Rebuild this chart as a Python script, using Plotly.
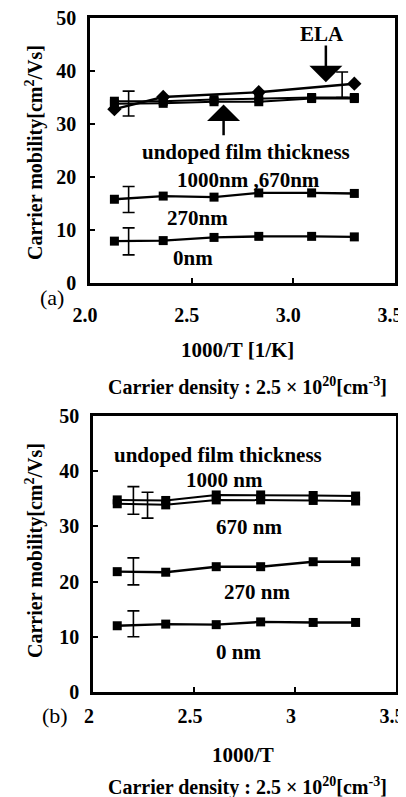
import plotly.graph_objects as go

# page window is 406x797; the HTML body keeps its default 8px margin
WIN_W, WIN_H = 406, 797
OFF = 8
W, H = WIN_W - OFF, WIN_H - OFF

# ---------------- data ----------------
x_pts = [2.12, 2.36, 2.61, 2.83, 3.09, 3.30]

# panel (a)
a_1000 = [34.3, 34.3, 34.6, 34.8, 35.0, 35.0]
a_670 = [33.8, 33.9, 34.2, 34.2, 34.8, 34.8]
a_270 = [15.8, 16.4, 16.2, 17.0, 17.0, 16.9]
a_0 = [7.9, 8.0, 8.6, 8.8, 8.8, 8.7]
a_ela_x = [2.12, 2.36, 2.83, 3.30]
a_ela = [32.8, 35.1, 36.0, 37.6]
a_err_x = [2.19, 2.19, 2.19, 3.24]
a_err_y = [33.85, 15.75, 7.85, 37.4]
a_err = [2.35, 2.45, 2.55, 2.4]

# panel (b)
b_1000 = [34.8, 34.7, 35.7, 35.7, 35.6, 35.5]
b_670 = [34.1, 33.9, 34.8, 34.8, 34.7, 34.6]
b_270 = [21.8, 21.7, 22.7, 22.7, 23.6, 23.6]
b_0 = [12.0, 12.3, 12.2, 12.7, 12.6, 12.6]
b_err_x = [2.20, 2.27, 2.20, 2.20]
b_err_y = [34.7, 33.85, 21.85, 12.35]
b_err = [2.5, 2.35, 2.45, 2.35]

y_ticks = [0, 10, 20, 30, 40, 50]
x_ticks = [2.0, 2.5, 3.0, 3.5]
a_xtick_text = ["2.0", "2.5", "3.0", "3.5"]
b_xtick_text = ["2", "2.5", "3", "3.5"]

SERIF = "Liberation Serif, Times New Roman, serif"
LBL = dict(family=SERIF, size=21, color="black", weight="bold")

fig = go.Figure()


def line_trace(xs, ys, xa, ya, symbol="square", size=9, width=2.4):
    return go.Scatter(x=xs, y=ys, mode="lines+markers", xaxis=xa, yaxis=ya,
                      line=dict(color="black", width=width),
                      marker=dict(symbol=symbol, size=size, color="black"),
                      showlegend=False, hoverinfo="skip")


def err_trace(xs, ys, es, xa, ya):
    return go.Scatter(x=xs, y=ys, mode="markers", xaxis=xa, yaxis=ya,
                      marker=dict(size=1, color="rgba(0,0,0,0)"),
                      error_y=dict(type="data", array=es, visible=True,
                                   color="black", thickness=1.6, width=6),
                      showlegend=False, hoverinfo="skip")


for ys in (a_1000, a_670):
    fig.add_trace(line_trace(x_pts, ys, "x", "y", width=2.0))
for ys in (a_270, a_0):
    fig.add_trace(line_trace(x_pts, ys, "x", "y"))
fig.add_trace(line_trace(a_ela_x, a_ela, "x", "y", symbol="diamond", size=11))
fig.add_trace(err_trace(a_err_x, a_err_y, a_err, "x", "y"))

for ys in (b_1000, b_670):
    fig.add_trace(line_trace(x_pts, ys, "x2", "y2", width=2.0))
for ys in (b_270, b_0):
    fig.add_trace(line_trace(x_pts, ys, "x2", "y2"))
fig.add_trace(err_trace(b_err_x, b_err_y, b_err, "x2", "y2"))


def px_x(p):
    return (p - OFF) / W


def px_y(p):
    return 1 - (p - OFF) / H


axis_common = dict(showline=True, linecolor="black", linewidth=2.5, mirror=True,
                   ticks="inside", ticklen=5, tickwidth=2, tickcolor="black",
                   showgrid=False, zeroline=False, automargin=False,
                   ticklabeloverflow="allow",
                   tickfont=dict(family=SERIF, size=20, color="black", weight="bold"))

fig.update_layout(
    width=W, height=H, margin=dict(l=0, r=0, t=0, b=0, autoexpand=False),
    paper_bgcolor="white", plot_bgcolor="white",
    xaxis=dict(domain=[px_x(90), px_x(395)], range=[2.0, 3.5], anchor="y",
               tickvals=x_ticks, ticktext=a_xtick_text, ticklabelstandoff=12,
               ticklabelshift=-5, **axis_common),
    yaxis=dict(domain=[px_y(283), px_y(18)], range=[0, 50], anchor="x",
               tickvals=y_ticks, ticklabelstandoff=7, **axis_common),
    xaxis2=dict(domain=[px_x(93), px_x(396)], range=[2.0, 3.5], anchor="y2",
                tickvals=x_ticks, ticktext=b_xtick_text, ticklabelstandoff=4,
                ticklabelshift=-4, **axis_common),
    yaxis2=dict(domain=[px_y(692), px_y(416)], range=[0, 50], anchor="x2",
                tickvals=y_ticks, ticklabelstandoff=7, **axis_common),
)

ann = []
# in-plot labels panel (a)
for txt, x, y in [("undoped film thickness", 2.765, 24.8),
                  ("1000nm ,670nm", 2.78, 19.5),
                  ("270nm", 2.53, 12.3),
                  ("0nm", 2.505, 4.7),
                  ("ELA", 3.14, 47.0)]:
    ann.append(dict(text=txt, x=x, y=y, xref="x", yref="y", showarrow=False,
                    font=LBL, xanchor="center", yanchor="middle"))
# arrows panel (a)
ann.append(dict(text="", x=3.16, y=37.9, ax=3.16, ay=45.1, xref="x", yref="y",
                axref="x", ayref="y", showarrow=True, arrowhead=1,
                arrowsize=2.2, arrowwidth=2.5, arrowcolor="black"))
ann.append(dict(text="", x=2.657, y=33.7, ax=2.657, ay=27.6, xref="x", yref="y",
                axref="x", ayref="y", showarrow=True, arrowhead=1,
                arrowsize=2.2, arrowwidth=2.5, arrowcolor="black"))
# in-plot labels panel (b)
for txt, x, y in [("undoped film thickness", 2.62, 42.9),
                  ("1000 nm", 2.65, 38.4),
                  ("670 nm", 2.77, 29.9),
                  ("270 nm", 2.81, 18.1),
                  ("0 nm", 2.72, 7.2)]:
    ann.append(dict(text=txt, x=x, y=y, xref="x2", yref="y2", showarrow=False,
                    font=LBL, xanchor="center", yanchor="middle"))

# outside texts: (text, x px, y px, angle, size, bold)
outside = [
    ("Carrier mobility[cm<sup>2</sup>/Vs]", 34, 153, -90, 20, True),
    ("1000/T [1/K]", 238, 350, 0, 21, True),
    ("Carrier density : 2.5 × 10<sup>20</sup>[cm<sup>-3</sup>]", 248, 386, 0, 20, True),
    ("(a)", 52, 297, 0, 22, False),
    ("Carrier mobility[cm<sup>2</sup>/Vs]", 34, 551, -90, 20, True),
    ("1000/T", 243, 755, 0, 21, True),
    ("Carrier density : 2.5 × 10<sup>20</sup>[cm<sup>-3</sup>]", 248, 786, 0, 20, True),
    ("(b)", 55, 715, 0, 22, False),
]
for txt, px, py, ang, sz, bold in outside:
    f = dict(family=SERIF, size=sz, color="black")
    if bold:
        f["weight"] = "bold"
    ann.append(dict(text=txt, x=px_x(px), y=px_y(py), xref="paper", yref="paper",
                    showarrow=False, textangle=ang, font=f,
                    xanchor="center", yanchor="middle"))

fig.update_layout(annotations=ann)
fig.write_html("out.html")
